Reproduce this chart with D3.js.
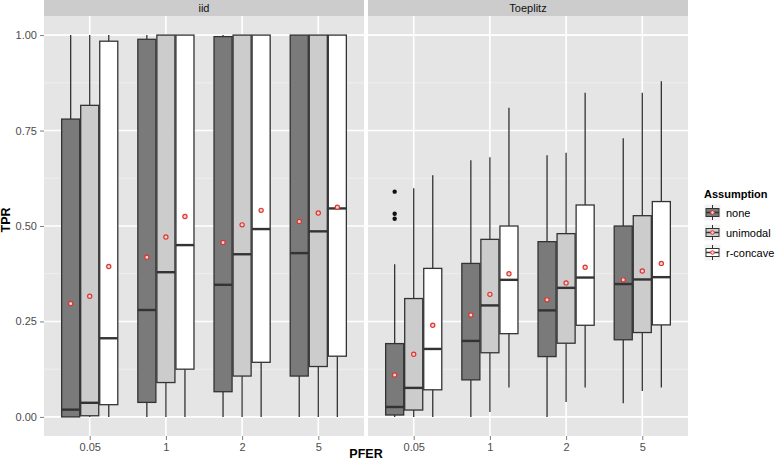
<!DOCTYPE html>
<html>
<head>
<meta charset="utf-8">
<script src="https://cdn.jsdelivr.net/npm/d3@7"></script>
<style>
  body { margin: 0; background: #ffffff; }
  svg { display: block; font-family: "Liberation Sans", Arial, sans-serif; }
</style>
</head>
<body>
<svg id="chart" width="779" height="466"></svg>
<script>
// ---------------- DATA ----------------
const panels = ["iid", "Toeplitz"];
const pferLevels = ["0.05", "1", "2", "5"];
const assumptions = ["none", "unimodal", "r-concave"];
const yTicks = [0, 0.25, 0.5, 0.75, 1];

// Values ordered PFER-major: [0.05: none, unimodal, r-concave, 1: ..., 2: ..., 5: ...]
const iidLower  = [0, 0, 0,       0, 0, 0,          0, 0, 0,          0, 0, 0];
const iidQ1     = [0, 0.003, 0.032, 0.038, 0.090, 0.125, 0.066, 0.107, 0.143, 0.107, 0.132, 0.159];
const iidMedian = [0.019, 0.037, 0.206, 0.280, 0.379, 0.450, 0.346, 0.426, 0.492, 0.429, 0.486, 0.546];
const iidQ3     = [0.780, 0.816, 0.984, 0.989, 1, 1, 0.996, 1, 1, 1, 1, 1];
const iidUpper  = [1, 1, 1,       1, 1, 1,          1, 1, 1,          1, 1, 1];
const iidMean   = [0.297, 0.316, 0.394, 0.418, 0.471, 0.525, 0.457, 0.503, 0.541, 0.512, 0.534, 0.549];
const iidOutliers = [[], [], [], [], [], [], [], [], [], [], [], []];

const toeLower  = [0, 0, 0,       0, 0.013, 0.077,  0, 0.039, 0.077,  0.036, 0.068, 0.077];
const toeQ1     = [0.005, 0.018, 0.071, 0.097, 0.168, 0.218, 0.158, 0.193, 0.240, 0.202, 0.221, 0.241];
const toeMedian = [0.026, 0.076, 0.178, 0.199, 0.292, 0.359, 0.279, 0.338, 0.365, 0.348, 0.360, 0.366];
const toeQ3     = [0.192, 0.310, 0.389, 0.402, 0.465, 0.500, 0.459, 0.480, 0.555, 0.500, 0.527, 0.564];
const toeUpper  = [0.400, 0.599, 0.633, 0.672, 0.680, 0.810, 0.685, 0.692, 0.849, 0.730, 0.849, 0.879];
const toeMean   = [0.110, 0.164, 0.240, 0.267, 0.321, 0.375, 0.307, 0.351, 0.392, 0.359, 0.382, 0.402];
const toeOutliers = [[0.590, 0.532, 0.519], [], [], [], [], [], [], [], [], [], [], []];

const fillColors = ["#7a7a7a", "#cccccc", "#ffffff"];

function buildRows(lower, q1, med, q3, upper, mean, outl) {
  const rows = [];
  pferLevels.forEach((p, i) => {
    assumptions.forEach((a, j) => {
      const k = i * 3 + j;
      rows.push({ pfer: p, assumption: a, lower: lower[k], q1: q1[k], median: med[k],
                  q3: q3[k], upper: upper[k], mean: mean[k], outliers: outl[k] });
    });
  });
  return rows;
}
const panelData = {
  "iid": buildRows(iidLower, iidQ1, iidMedian, iidQ3, iidUpper, iidMean, iidOutliers),
  "Toeplitz": buildRows(toeLower, toeQ1, toeMedian, toeQ3, toeUpper, toeMean, toeOutliers)
};

// ---------------- LAYOUT ----------------
const svg = d3.select("#chart");
const panelTop = 16, panelBottom = 436, stripTop = 0;
const panelX = [[44, 364], [368, 688]];
const titleFont = "'Liberation Sans Narrow', 'Liberation Sans', Arial, sans-serif";

const y = d3.scaleLinear().domain([-0.05, 1.05]).range([panelBottom, panelTop]);
const color = d3.scaleOrdinal().domain(assumptions).range(fillColors);

panels.forEach((pname, pi) => {
  const [x0, x1] = panelX[pi];
  const x = d3.scalePoint().domain(pferLevels).range([x0, x1]).padding(0.6);
  const step = x.step();
  const dodge = d3.scaleBand().domain(assumptions).range([-0.375 * step, 0.375 * step]).padding(0);
  const bw = dodge.bandwidth();

  const g = svg.append("g");
  // strip
  g.append("rect").attr("x", x0).attr("y", stripTop).attr("width", x1 - x0)
    .attr("height", panelTop - stripTop).attr("fill", "#cccccc");
  g.append("text").attr("x", (x0 + x1) / 2).attr("y", (stripTop + panelTop) / 2 + 4)
    .attr("text-anchor", "middle").attr("font-size", 11).attr("fill", "#111111").text(pname);

  // panel background
  g.append("rect").attr("x", x0).attr("y", panelTop).attr("width", x1 - x0)
    .attr("height", panelBottom - panelTop).attr("fill", "#e5e5e5");

  // minor grid
  const minor = yTicks.slice(0, -1).map((t, i) => (t + yTicks[i + 1]) / 2);
  g.selectAll(".minor").data(minor).enter().append("line")
    .attr("x1", x0).attr("x2", x1).attr("y1", d => y(d)).attr("y2", d => y(d))
    .attr("stroke", "#f2f2f2").attr("stroke-width", 0.8);
  // major grid
  g.selectAll(".majh").data(yTicks).enter().append("line")
    .attr("x1", x0).attr("x2", x1).attr("y1", d => y(d)).attr("y2", d => y(d))
    .attr("stroke", "#ffffff").attr("stroke-width", 1.6);
  g.selectAll(".majv").data(pferLevels).enter().append("line")
    .attr("x1", d => x(d)).attr("x2", d => x(d)).attr("y1", panelTop).attr("y2", panelBottom)
    .attr("stroke", "#ffffff").attr("stroke-width", 1.6);

  // x axis
  const xAxis = d3.axisBottom(x).tickSize(4).tickPadding(3);
  const xa = g.append("g").attr("transform", `translate(0,${panelBottom})`).call(xAxis);
  xa.select(".domain").remove();
  xa.selectAll(".tick line").attr("stroke", "#7f7f7f");
  xa.selectAll(".tick text").attr("fill", "#4d4d4d").attr("font-size", 11)
    .attr("font-family", "Liberation Sans, Arial, sans-serif");

  if (pi === 0) {
    const yAxis = d3.axisLeft(y).tickValues(yTicks).tickFormat(d3.format(".2f")).tickSize(4).tickPadding(3);
    const ya = g.append("g").attr("transform", `translate(${x0},0)`).call(yAxis);
    ya.select(".domain").remove();
    ya.selectAll(".tick line").attr("stroke", "#7f7f7f");
    ya.selectAll(".tick text").attr("fill", "#4d4d4d").attr("font-size", 11)
      .attr("font-family", "Liberation Sans, Arial, sans-serif");
  }

  const rows = panelData[pname];
  const bx = d => x(d.pfer) + dodge(d.assumption);
  const cx = d => bx(d) + bw / 2;
  const boxes = g.selectAll(".box").data(rows).enter().append("g");
  // whiskers
  boxes.append("line").attr("x1", cx).attr("x2", cx)
    .attr("y1", d => y(d.upper)).attr("y2", d => y(d.q3))
    .attr("stroke", "#333333").attr("stroke-width", 1.3);
  boxes.append("line").attr("x1", cx).attr("x2", cx)
    .attr("y1", d => y(d.q1)).attr("y2", d => y(d.lower))
    .attr("stroke", "#333333").attr("stroke-width", 1.3);
  // box
  boxes.append("rect").attr("x", d => bx(d) + 0.5).attr("width", bw - 1)
    .attr("y", d => y(d.q3)).attr("height", d => y(d.q1) - y(d.q3))
    .attr("fill", d => color(d.assumption)).attr("stroke", "#333333").attr("stroke-width", 1.3);
  // median
  boxes.append("line").attr("x1", d => bx(d) + 0.5).attr("x2", d => bx(d) + bw - 0.5)
    .attr("y1", d => y(d.median)).attr("y2", d => y(d.median))
    .attr("stroke", "#333333").attr("stroke-width", 2.4);
  // outliers
  boxes.each(function (d) {
    d3.select(this).selectAll(".out").data(d.outliers).enter().append("circle")
      .attr("cx", cx(d)).attr("cy", v => y(v)).attr("r", 2.2).attr("fill", "#111111");
  });
  // means
  boxes.append("circle").attr("cx", cx).attr("cy", d => y(d.mean)).attr("r", 2.1)
    .attr("fill", "#f3d6d6").attr("stroke", "#e0342c").attr("stroke-width", 1.2);
});

// axis titles
svg.append("text").attr("x", (panelX[0][0] + panelX[1][1]) / 2).attr("y", 458)
  .attr("text-anchor", "middle").attr("font-size", 12.5).attr("font-weight", "bold")
  .attr("font-family", titleFont).attr("fill", "#000").text("PFER");
svg.append("text").attr("transform", `translate(10,220) rotate(-90)`)
  .attr("text-anchor", "middle").attr("font-size", 12.5).attr("font-weight", "bold")
  .attr("font-family", titleFont).attr("fill", "#000").text("TPR");

// legend
const lg = svg.append("g").attr("transform", "translate(704,184)");
lg.append("text").attr("x", 0).attr("y", 14).attr("font-size", 11).attr("font-weight", "bold")
  .attr("fill", "#000").text("Assumption");
assumptions.forEach((a, i) => {
  const ky = 20 + i * 20;
  const k = lg.append("g").attr("transform", `translate(0,${ky})`);
  k.append("rect").attr("x", 0).attr("y", 0).attr("width", 17).attr("height", 17)
    .attr("fill", "#f2f2f2").attr("stroke", "#ffffff");
  k.append("line").attr("x1", 8.5).attr("x2", 8.5).attr("y1", 1).attr("y2", 16)
    .attr("stroke", "#333333").attr("stroke-width", 1);
  k.append("rect").attr("x", 2).attr("y", 4.5).attr("width", 13).attr("height", 8)
    .attr("fill", color(a)).attr("stroke", "#333333").attr("stroke-width", 1);
  k.append("line").attr("x1", 2).attr("x2", 15).attr("y1", 8.5).attr("y2", 8.5)
    .attr("stroke", "#333333").attr("stroke-width", 1.5);
  k.append("circle").attr("cx", 8.5).attr("cy", 8.5).attr("r", 1.8)
    .attr("fill", "#f3d6d6").attr("stroke", "#e0342c").attr("stroke-width", 1);
  lg.append("text").attr("x", 22).attr("y", ky + 12.5).attr("font-size", 11)
    .attr("fill", "#000").text(a);
});
</script>
</body>
</html>
